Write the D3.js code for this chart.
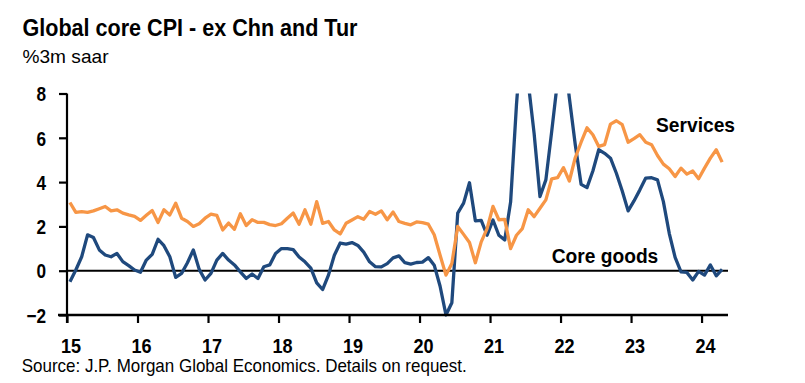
<!DOCTYPE html>
<html>
<head>
<meta charset="utf-8">
<script src="https://cdn.jsdelivr.net/npm/d3@7"></script>
<style>
  html, body { margin: 0; padding: 0; background: #fff; }
  svg { display: block; font-family: "Liberation Sans", Arial, sans-serif; }
</style>
</head>
<body>
<svg id="chart" width="805" height="383"></svg>
<script>
// ---- Data (monthly, Jan 2015 .. Apr 2024) ----
const startYear = 2015;
const services = [
  3.08, 2.63, 2.67, 2.63, 2.70, 2.80, 2.90, 2.70, 2.75, 2.60, 2.52, 2.45,
  2.27, 2.50, 2.72, 2.18, 2.75, 2.52, 3.05, 2.37, 2.22, 2.00, 2.12, 2.37,
  2.55, 2.50, 1.84, 2.15, 1.87, 2.57, 2.04, 2.30, 2.18, 2.18, 2.08, 2.04,
  2.12, 2.37, 2.60, 2.10, 2.75, 2.10, 3.12, 2.14, 2.22, 1.84, 1.66, 2.14,
  2.29, 2.44, 2.32, 2.67, 2.55, 2.70, 2.30, 2.65, 2.22, 2.14, 2.07, 2.20,
  2.17, 2.10, 1.62, 0.70, -0.20, 0.33, 2.00, 1.64, 1.27, 0.36, 1.30, 1.90,
  2.90, 2.30, 2.32, 1.00, 1.60, 1.90, 2.75, 2.44, 2.82, 3.20, 4.15, 4.20,
  4.65, 4.05, 5.10, 5.80, 6.45, 6.14, 5.61, 5.69, 6.62, 6.77, 6.59, 5.80,
  5.96, 6.14, 5.80, 5.69, 5.20, 4.81, 4.60, 4.25, 4.63, 4.36, 4.50, 4.15,
  4.63, 5.08, 5.46, 4.90
];
const coreGoods = [
  -0.50, 0.03, 0.63, 1.62, 1.50, 0.94, 0.71, 0.63, 0.78, 0.41, 0.23, 0.03,
  -0.07, 0.48, 0.74, 1.42, 1.13, 0.63, -0.30, -0.12, 0.36, 0.94, 0.06, -0.42,
  -0.12, 0.48, 0.78, 0.48, 0.26, -0.05, -0.35, -0.15, -0.35, 0.18, 0.26, 0.78,
  1.00, 1.00, 0.95, 0.62, 0.40, 0.12, -0.55, -0.85, -0.20, 0.70, 1.25, 1.20,
  1.27, 1.14, 0.84, 0.40, 0.18, 0.17, 0.32, 0.58, 0.67, 0.36, 0.30, 0.37,
  0.39, 0.59, 0.25, -0.70, -2.00, -1.45, 2.60, 3.05, 3.97, 2.25, 2.27, 1.60,
  2.29, 1.60, 1.39, 3.10, 7.50, 11.0, 8.50, 6.20, 3.35, 4.10, 6.30, 8.60,
  10.0, 7.80, 5.70, 3.90, 3.75, 4.50, 5.46, 5.30, 5.08, 4.40, 3.60, 2.70,
  3.15, 3.65, 4.18, 4.20, 4.10, 3.12, 1.69, 0.60, -0.05, -0.08, -0.42, -0.03,
  -0.20, 0.26, -0.23, 0.06
];
const yTicks = [-2, 0, 2, 4, 6, 8];
const xTicks = [2015, 2016, 2017, 2018, 2019, 2020, 2021, 2022, 2023, 2024];
const titleText = "Global core CPI - ex Chn and Tur";
const subtitleText = "%3m saar";
const sourceText = "Source: J.P. Morgan Global Economics. Details on request.";
const seriesLabels = ["Services", "Core goods"];

// ---- Layout ----
const svg = d3.select("#chart");
const pLeft = 67, pRight = 728, pTop = 93.5, pBottom = 315;
const x = d3.scaleLinear().domain([2015, 2024 + 4.5 / 12]).range([pLeft, pRight]);
const y = d3.scaleLinear().domain([-2, 8]).range([pBottom, pTop]);
const xPos = i => x(startYear + (i + 0.5) / 12);

const BLUE = "#1f497d", ORANGE = "#f79646";
const TICK_K = 0.86;

function squeeze(sel, k) {
  sel.each(function () {
    const w = this.getComputedTextLength();
    d3.select(this).attr("textLength", w * k).attr("lengthAdjust", "spacingAndGlyphs");
  });
}
function fitText(sel, w) {
  sel.attr("textLength", w).attr("lengthAdjust", "spacingAndGlyphs");
}

// Title / subtitle
fitText(svg.append("text").attr("x", 22.5).attr("y", 35.5)
  .attr("font-size", 24).attr("font-weight", "bold").attr("fill", "#000").text(titleText), 335);
fitText(svg.append("text").attr("x", 22.5).attr("y", 63.3)
  .attr("font-size", 18.6).attr("fill", "#000").text(subtitleText), 86);

// Zero line
svg.append("line")
  .attr("x1", pLeft).attr("x2", pRight)
  .attr("y1", y(0)).attr("y2", y(0))
  .attr("stroke", "#000").attr("stroke-width", 2);

// Clip for lines (top of plot)
svg.append("defs").append("clipPath").attr("id", "plotClip")
  .append("rect").attr("x", pLeft).attr("y", pTop).attr("width", pRight - pLeft + 10).attr("height", 383 - pTop);

const line = d3.line().x((d, i) => xPos(i)).y(d => y(d)).curve(d3.curveLinear);
const plot = svg.append("g").attr("clip-path", "url(#plotClip)");
plot.append("path").datum(coreGoods).attr("d", line)
  .attr("fill", "none").attr("stroke", BLUE).attr("stroke-width", 3.3).attr("stroke-linejoin", "round");
plot.append("path").datum(services).attr("d", line)
  .attr("fill", "none").attr("stroke", ORANGE).attr("stroke-width", 3.3).attr("stroke-linejoin", "round");

// Y axis
const yAxis = svg.append("g").attr("transform", `translate(${pLeft},0)`)
  .call(d3.axisLeft(y).tickValues(yTicks).tickSize(8).tickPadding(13).tickFormat(d3.format("d")));
yAxis.select(".domain").attr("stroke", "#000").attr("stroke-width", 2.2)
  .attr("d", `M0,${pTop}V${pBottom + 8}`);
yAxis.selectAll(".tick line").attr("stroke", "#000").attr("stroke-width", 2.2);
yAxis.selectAll(".tick text").attr("font-size", 20).attr("font-weight", "bold")
  .attr("fill", "#000").attr("font-family", "Liberation Sans, Arial, sans-serif")
  .attr("dy", "0.36em").call(squeeze, TICK_K);

// X axis (at -2)
const xAxis = svg.append("g").attr("transform", `translate(0,${pBottom})`)
  .call(d3.axisBottom(x).tickValues(xTicks).tickSize(8).tickFormat(d => String(d % 100)));
xAxis.select(".domain").attr("stroke", "#000").attr("stroke-width", 2.5)
  .attr("d", `M${pLeft - 9},0H${pRight}`);
xAxis.selectAll(".tick line").attr("stroke", "#000").attr("stroke-width", 2.2);
xAxis.selectAll(".tick text").attr("font-size", 21).attr("font-weight", "bold")
  .attr("fill", "#000").attr("font-family", "Liberation Sans, Arial, sans-serif")
  .attr("y", 37.7).attr("dy", 0).attr("dx", 3.5).call(squeeze, TICK_K);

// Series labels
fitText(svg.append("text").attr("x", 656).attr("y", 131.7)
  .attr("font-size", 21).attr("font-weight", "bold").attr("fill", "#000").text(seriesLabels[0]), 79);
fitText(svg.append("text").attr("x", 551.7).attr("y", 262.7)
  .attr("font-size", 20).attr("font-weight", "bold").attr("fill", "#000").text(seriesLabels[1]), 106.6);

// Source
fitText(svg.append("text").attr("x", 21.7).attr("y", 371.7)
  .attr("font-size", 18.6).attr("fill", "#000").text(sourceText), 445);
</script>
</body>
</html>
